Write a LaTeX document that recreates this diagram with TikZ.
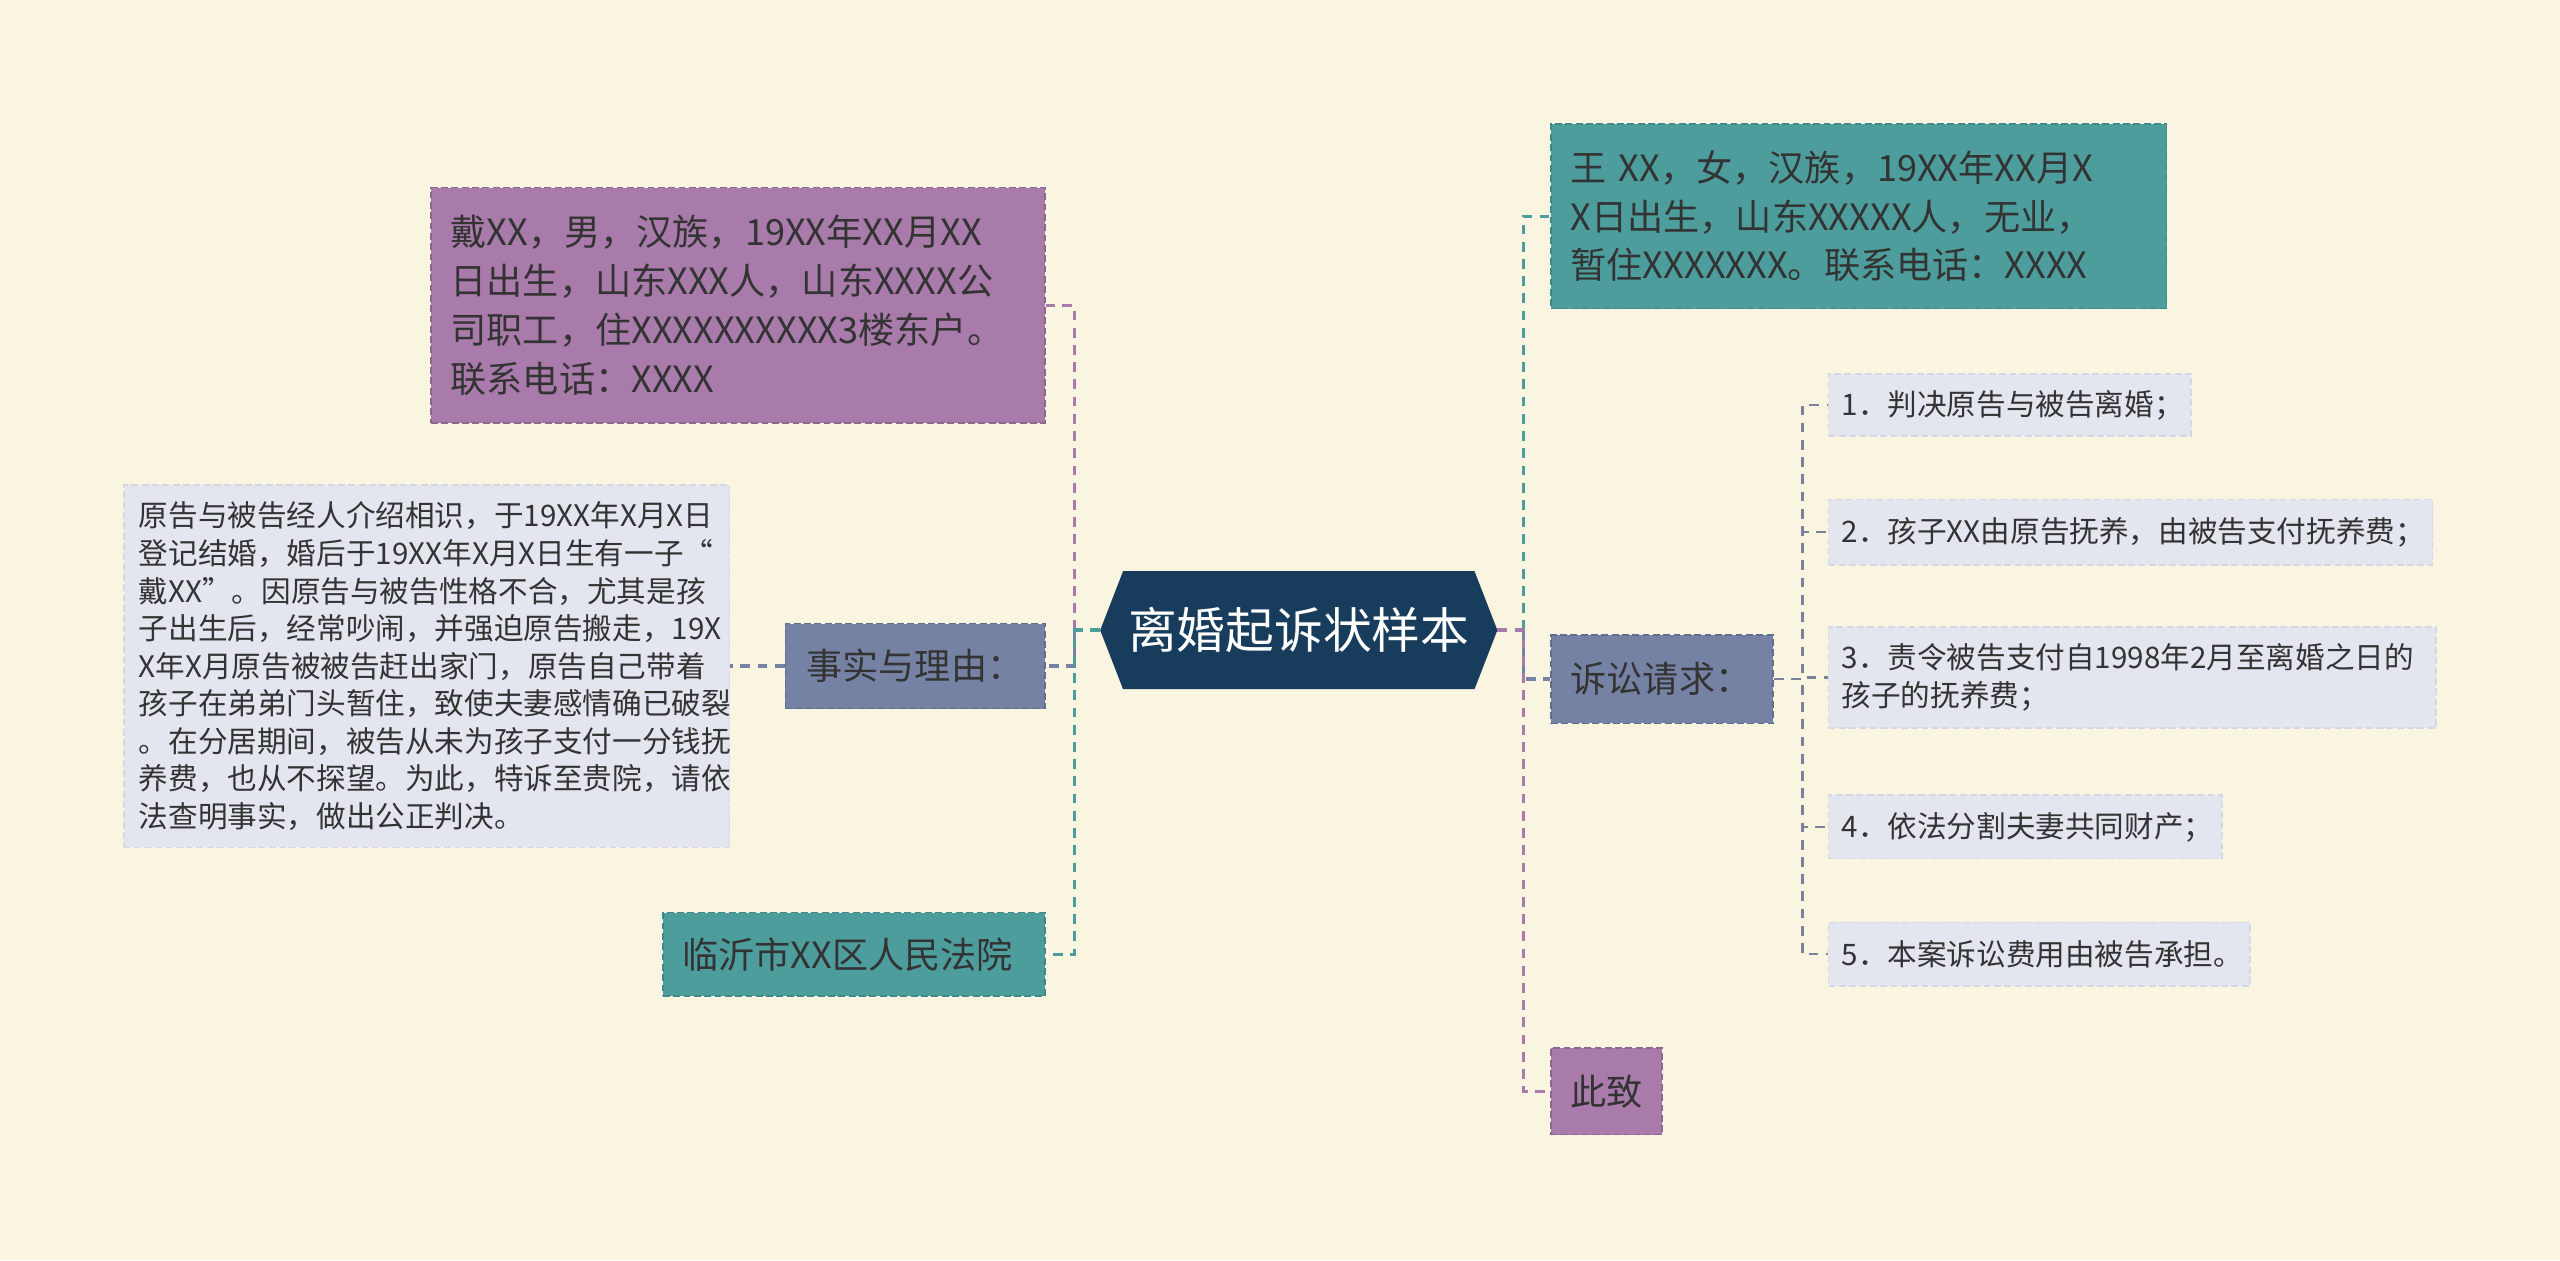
\documentclass[tikz,border=0pt]{standalone}
\usepackage{fontspec}
\setmainfont{Noto Sans CJK SC}
\usetikzlibrary{calc,backgrounds}

\definecolor{bgcream}{HTML}{FAF5E1}
\definecolor{rootblue}{HTML}{183D5C}
\definecolor{boxpurple}{HTML}{A87BAA}
\definecolor{boxteal}{HTML}{4E9D9D}
\definecolor{boxslate}{HTML}{7682A3}
\definecolor{boxlight}{HTML}{E3E6EF}
\definecolor{edgepurple}{HTML}{8E6692}
\definecolor{edgeteal}{HTML}{3F8B8B}
\definecolor{edgeslate}{HTML}{616D8F}
\definecolor{edgelight}{HTML}{D3D8E4}
\definecolor{linkgray}{HTML}{7A8299}
\definecolor{textdark}{HTML}{333333}

\tikzset{
  box/.style={rectangle, inner sep=0pt, align=left, text=textdark,
    line width=1.2pt, dash pattern=on 6pt off 3pt},
  bigtext/.style={font=\fontsize{31.5}{42.5}\selectfont},
  smalltext/.style={font=\fontsize{25.8}{32.7}\selectfont},
  purplebox/.style={box, bigtext, fill=boxpurple, draw=edgepurple},
  tealbox/.style={box, bigtext, fill=boxteal, draw=edgeteal},
  slatebox/.style={box, bigtext, fill=boxslate, draw=edgeslate},
  lightbox/.style={box, smalltext, fill=boxlight, draw=edgelight, inner xsep=0.4cm},
  link/.style={line width=3pt, dash pattern=on 8.5pt off 6.5pt},
}

\begin{document}
\begin{tikzpicture}[x=0.05cm, y=-0.05cm]
  \begin{pgfonlayer}{background}
    \fill[bgcream] (0,0) rectangle (1568,772);
  \end{pgfonlayer}
  \useasboundingbox (0,0) rectangle (1568,772);

  % root
  \node[minimum width=12.15cm, minimum height=3.6cm, inner sep=0pt, text=white,
        font=\fontsize{42.5}{50}\selectfont] (root) at (795.5,386) {离婚起诉状样本};
  \begin{pgfonlayer}{background}
    \fill[rootblue] (root.west) -- ($(root.north west)+(14,0)$) -- ($(root.north east)+(-14,0)$)
      -- (root.east) -- ($(root.south east)+(-14,0)$) -- ($(root.south west)+(14,0)$) -- cycle;
  \end{pgfonlayer}

  % left side
  \node[purplebox, text width=17.6cm, inner xsep=0.6cm, minimum height=7.2cm] (dai) at (452,187)
    {戴XX，男，汉族，19XX年XX月XX\\日出生，山东XXX人，山东XXXX公\\司职工，住XXXXXXXXXX3楼东户。\\联系电话：XXXX};
  \node[slatebox, text width=6.65cm, inner xsep=0.65cm, minimum height=2.6cm] (shishi) at (560.5,408) {事实与理由：};
  \node[lightbox, text width=17.65cm, inner xsep=0.45cm, minimum height=11.1cm] (facts) at (261.5,408)
    {原告与被告经人介绍相识，于19XX年X月X日\\登记结婚，婚后于19XX年X月X日生有一子“\\戴XX”。因原告与被告性格不合，尤其是孩\\子出生后，经常吵闹，并强迫原告搬走，19X\\X年X月原告被被告赶出家门，原告自己带着\\孩子在弟弟门头暂住，致使夫妻感情确已破裂\\。在分居期间，被告从未为孩子支付一分钱抚\\养费，也从不探望。为此，特诉至贵院，请依\\法查明事实，做出公正判决。};
  \node[tealbox, text width=10.5cm, inner xsep=0.6cm, minimum height=2.55cm] (linyi) at (523,584.5) {临沂市XX区人民法院};

  % right side
  \node[tealbox, text width=17.65cm, inner xsep=0.6cm, minimum height=5.65cm] (wang) at (1138.5,132.5)
    {王 XX，女，汉族，19XX年XX月X\\X日出生，山东XXXXX人，无业，\\暂住XXXXXXX。联系电话：XXXX};
  \node[slatebox, text width=5.6cm, inner xsep=0.6cm, minimum height=2.7cm] (susong) at (1018,416) {诉讼请求：};
  \node[purplebox, text width=2.2cm, inner xsep=0.6cm, minimum height=2.65cm] (cizhi) at (984,668.5) {此致};

  % claims
  \node[lightbox, text width=10.3cm, minimum height=1.9cm] (claim1) at (1231,248) {1．判决原告与被告离婚；};
  \node[lightbox, text width=17.7cm, minimum height=2cm] (claim2) at (1305,326) {2．孩子XX由原告抚养，由被告支付抚养费；};
  \node[lightbox, text width=17.8cm, minimum height=3.1cm] (claim3) at (1306,415) {3．责令被告支付自1998年2月至离婚之日的\\孩子的抚养费；};
  \node[lightbox, text width=11.25cm, minimum height=1.95cm] (claim4) at (1240.5,506.5) {4．依法分割夫妻共同财产；};
  \node[lightbox, text width=12.1cm, minimum height=1.95cm] (claim5) at (1249,584.5) {5．本案诉讼费用由被告承担。};

  % connectors
  \coordinate (lbus) at (658,386);
  \coordinate (rbus) at (933,386);
  \coordinate (cbus) at (1104,416);

  \draw[link, boxslate] (lbus) |- (shishi.east);
  \draw[link, boxslate] (shishi.west) -- (facts.east);
  \draw[link, boxpurple] (lbus) |- (dai.east);
  \draw[link, boxteal] (root.west) -- (lbus) |- (linyi.east);

  \draw[link, boxslate] (rbus) |- (susong.west);
  \draw[link, boxteal] (rbus) |- (wang.west);
  \draw[link, boxpurple] (root.east) -- (rbus) |- (cizhi.west);

  \foreach \c in {claim1,claim2,claim3,claim4,claim5}
    \draw[link, linkgray, line width=2pt] (susong.east) -- (cbus) |- (\c.west);
\end{tikzpicture}
\end{document}
